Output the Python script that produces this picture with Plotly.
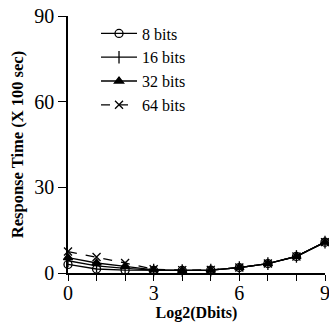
import plotly.graph_objects as go

x_vals = [0, 1, 2, 3, 4, 5, 6, 7, 8, 9]
bits_8 = [3.0, 1.4, 1.0, 0.9, 0.9, 1.0, 1.9, 3.3, 5.8, 10.8]
bits_16 = [4.3, 2.5, 1.6, 1.0, 0.9, 1.0, 1.9, 3.3, 5.8, 10.8]
bits_32 = [5.4, 3.5, 2.3, 1.1, 0.9, 1.0, 1.9, 3.3, 5.8, 10.8]
bits_64 = [7.5, 5.6, 3.5, 1.3, 1.0, 1.1, 1.9, 3.3, 5.8, 10.8]
series_names = ["8 bits", "16 bits", "32 bits", "64 bits"]

FONT = "Liberation Serif"

fig = go.Figure()
styles = [
    dict(symbol="circle-open", size=8, dash="solid"),
    dict(symbol="line-ns-open", size=9, dash="solid"),
    dict(symbol="triangle-up", size=8, dash="solid"),
    dict(symbol="x-thin-open", size=8, dash="dash"),
]
for name, ys, st in zip(series_names, [bits_8, bits_16, bits_32, bits_64], styles):
    fig.add_trace(go.Scatter(
        x=x_vals, y=ys, name=name, mode="lines+markers",
        line=dict(color="black", width=1.3, dash=st["dash"]),
        marker=dict(symbol=st["symbol"], size=st["size"], color="black",
                    line=dict(color="black", width=1.3)),
        cliponaxis=False,
    ))

fig.update_layout(
    width=329, height=333,
    margin=dict(l=68, r=4, t=16, b=60),
    paper_bgcolor="white", plot_bgcolor="white",
    font=dict(family=FONT, color="black", size=20),
    showlegend=True,
    legend=dict(x=0.109, y=0.998, xanchor="left", yanchor="top",
                font=dict(family=FONT, size=16), bgcolor="rgba(0,0,0,0)",
                tracegroupgap=0, itemwidth=36),
    xaxis=dict(range=[0, 9], tickvals=[0, 1, 2, 3, 4, 5, 6, 7, 8, 9],
               ticktext=["0", "", "", "3", "", "", "6", "", "", "9"],
               ticks="outside", ticklen=6, tickcolor="black", tickwidth=1,
               ticklabelstandoff=-5, ticklabeloverflow="allow",
               showline=True, linecolor="black", linewidth=1.5,
               showgrid=False, zeroline=False, automargin=False,
               tickfont=dict(family=FONT, size=20),
               title=dict(text="<b>Log2(Dbits)</b>", standoff=4,
                          font=dict(family=FONT, size=16))),
    yaxis=dict(range=[0, 90], tickvals=[0, 30, 60, 90],
               ticks="outside", ticklen=8, tickcolor="black", tickwidth=1,
               showline=True, linecolor="black", linewidth=1.5,
               showgrid=False, zeroline=False, automargin=False,
               tickfont=dict(family=FONT, size=20),
               title=dict(text="<b>Response Time (X 100 sec)</b>", standoff=6,
                          font=dict(family=FONT, size=16.5))),
)

fig.write_html("out.html", config={"displayModeBar": False},
               post_script="document.body.style.margin='0';document.body.style.padding='0';")
